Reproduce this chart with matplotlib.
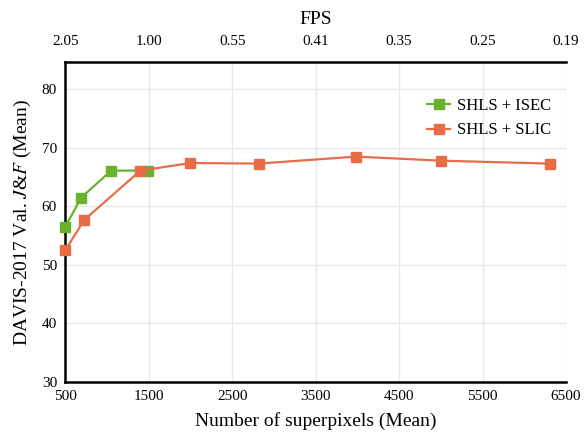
import matplotlib
matplotlib.use('Agg')
import matplotlib.pyplot as plt

plt.rcParams['font.family'] = 'Liberation Serif'
plt.rcParams['mathtext.fontset'] = 'stix'

isec_x = [500, 690, 1050, 1490]
isec_y = [56.5, 61.5, 66.1, 66.1]
slic_x = [500, 728, 1400, 2000, 2816, 3988, 5000, 6308]
slic_y = [52.5, 57.7, 66.1, 67.4, 67.3, 68.5, 67.8, 67.3]

xticks = [500, 1500, 2500, 3500, 4500, 5500, 6500]
fps_labels = ['2.05', '1.00', '0.55', '0.41', '0.35', '0.25', '0.19']
yticks = [30, 40, 50, 60, 70, 80]

green = '#67b32c'
orange = '#e86d46'

fig = plt.figure(figsize=(5.84, 4.41), dpi=100)
ax = fig.add_axes([0.1118, 0.1338, 0.8574, 0.7249])

ax.plot(isec_x, isec_y, color=green, lw=1.6, marker='s', ms=6.5, label='SHLS + ISEC', clip_on=False, zorder=3)
ax.plot(slic_x, slic_y, color=orange, lw=1.6, marker='s', ms=6.5, label='SHLS + SLIC', clip_on=False, zorder=4)

ax.set_xlim(500, 6500)
ax.set_ylim(30, 84.6)
ax.set_xticks(xticks)
ax.set_yticks(yticks)
ax.grid(True, color='#e8e8e8', lw=1)
ax.set_axisbelow(True)
ax.tick_params(length=0, labelsize=11, pad=6)

for s in ['left', 'bottom', 'top']:
    ax.spines[s].set_color('black')
    ax.spines[s].set_linewidth(1.8)
ax.spines['right'].set_visible(False)

ax.set_xlabel('Number of superpixels (Mean)', fontsize=14, labelpad=6)
ax.set_ylabel(r'DAVIS-2017 Val. $J$&$F$ (Mean)', fontsize=14, labelpad=6)

top = ax.twiny()
top.set_xlim(ax.get_xlim())
top.set_xticks(xticks)
top.set_xticklabels(fps_labels)
top.tick_params(length=0, labelsize=11, pad=10)
for s in top.spines.values():
    s.set_visible(False)
top.set_xlabel('FPS', fontsize=14, labelpad=8)

ax.legend(loc='upper right', bbox_to_anchor=(1.0, 0.935), frameon=False,
          fontsize=12, handlelength=1.4, handletextpad=0.4, labelspacing=0.5)

fig.savefig('out.png', dpi=100)
